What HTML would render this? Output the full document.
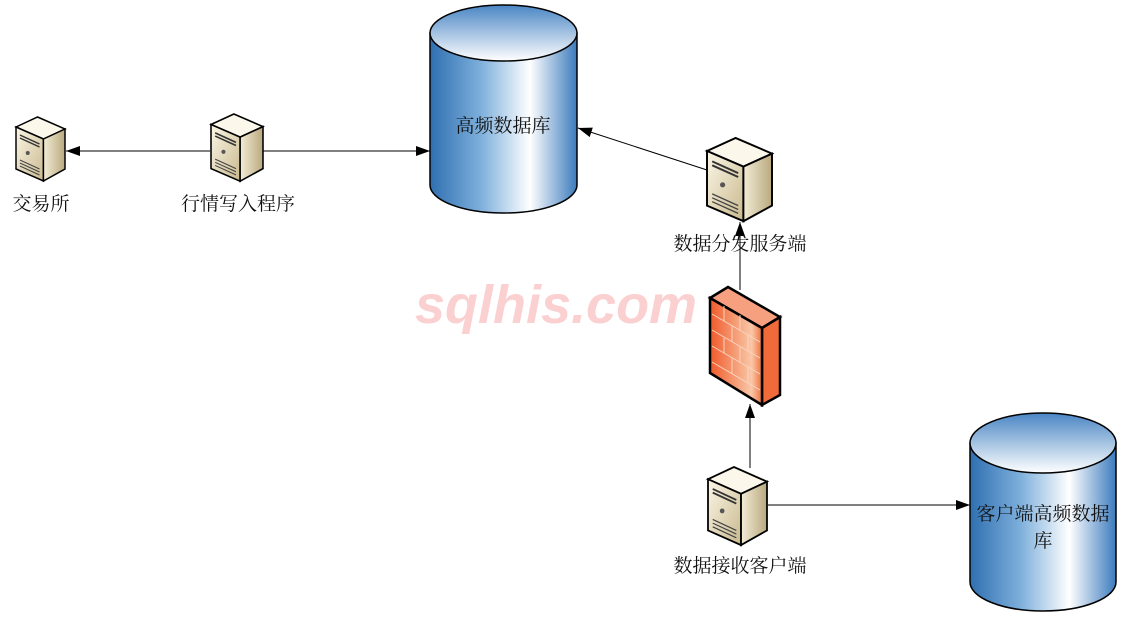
<!DOCTYPE html>
<html><head><meta charset="utf-8"><style>
body{margin:0;background:#fff;width:1124px;height:614px;overflow:hidden}
svg text{font-family:"Liberation Serif","Noto Serif CJK SC","Noto Sans CJK SC",serif;font-size:19px;fill:#111}
</style></head><body>
<svg width="1124" height="614" viewBox="0 0 1124 614">
<defs>
<linearGradient id="body" x1="0" x2="1" y1="0" y2="0">
<stop offset="0" stop-color="#2f6fb0"/><stop offset="0.35" stop-color="#7fb0dc"/><stop offset="0.68" stop-color="#ffffff"/><stop offset="1" stop-color="#3b7bbd"/></linearGradient>
<linearGradient id="top" x1="0" x2="0" y1="0" y2="1">
<stop offset="0" stop-color="#4a86c4"/><stop offset="1" stop-color="#ffffff"/></linearGradient>
<linearGradient id="sf" x1="0" x2="1" y1="0" y2="1"><stop offset="0" stop-color="#fbf6e6"/><stop offset="1" stop-color="#c9b98e"/></linearGradient>
<linearGradient id="ss" x1="0" x2="1" y1="0" y2="0"><stop offset="0" stop-color="#f3ecd6"/><stop offset="1" stop-color="#b9a97e"/></linearGradient>
<linearGradient id="fw" x1="0" x2="1" y1="0" y2="0"><stop offset="0" stop-color="#f05a2a"/><stop offset="0.8" stop-color="#f9c8a8"/><stop offset="1" stop-color="#f07040"/></linearGradient>
<marker id="ar" markerWidth="14" markerHeight="10" refX="14" refY="5" orient="auto" markerUnits="userSpaceOnUse"><path d="M0,0 L14,5 L0,10 Z" fill="#000"/></marker>
<g id="srv">
<path d="M0,10 L22,0 L50,12 L28,22 Z" fill="#fbf7ea" stroke="#000" stroke-width="1.5"/>
<path d="M0,10 L28,22 L28,64 L0,52 Z" fill="url(#sf)" stroke="#000" stroke-width="1.5"/>
<path d="M28,22 L50,12 L50,52 L28,64 Z" fill="url(#ss)" stroke="#000" stroke-width="1.5"/>
<path d="M4,18 L24,27 M4,21 L24,30" stroke="#333" stroke-width="1.5"/>
<circle cx="12" cy="36" r="2" fill="#555"/>
<path d="M4,43 L24,52 M4,46 L24,55 M4,49 L24,58" stroke="#444" stroke-width="1"/>
</g>
</defs>
<!-- watermark -->
<text x="415" y="323" style="font-family:'Liberation Sans',sans-serif;font-size:54px;font-weight:bold;font-style:italic;fill:#fbd0d0">sqlhis.com</text>
<!-- cylinder 1 -->
<path d="M430,33 L430,185 A73.5,28 0 0 0 577,185 L577,33 Z" fill="url(#body)" stroke="#000" stroke-width="1.5"/>
<ellipse cx="503.5" cy="33" rx="73.5" ry="28" fill="url(#top)" stroke="#000" stroke-width="1.5"/>
<text x="503" y="132" text-anchor="middle">高频数据库</text>
<!-- cylinder 2 -->
<path d="M970,443 L970,582 A73,29 0 0 0 1116,582 L1116,443 Z" fill="url(#body)" stroke="#000" stroke-width="1.5"/>
<ellipse cx="1043" cy="443" rx="73" ry="30" fill="url(#top)" stroke="#000" stroke-width="1.5"/>
<text x="1043" y="520" text-anchor="middle">客户端高频数据</text>
<text x="1043" y="547" text-anchor="middle">库</text>
<!-- connectors -->
<line x1="210" y1="151" x2="66" y2="151" stroke="#000" marker-end="url(#ar)"/>
<line x1="263" y1="151" x2="430" y2="151" stroke="#000" marker-end="url(#ar)"/>
<line x1="707" y1="170" x2="578" y2="128" stroke="#000" marker-end="url(#ar)"/>
<line x1="740" y1="290" x2="740" y2="222" stroke="#000" marker-end="url(#ar)"/>
<line x1="750" y1="468" x2="750" y2="404" stroke="#000" marker-end="url(#ar)"/>
<line x1="768" y1="505" x2="970" y2="505" stroke="#000" marker-end="url(#ar)"/>
<!-- servers -->
<use href="#srv" transform="translate(16,117) scale(0.98,1)"/>
<use href="#srv" transform="translate(211,114) scale(1.04,1.05)"/>
<use href="#srv" transform="translate(707,138) scale(1.3,1.3)"/>
<use href="#srv" transform="translate(708,467) scale(1.18,1.22)"/>
<!-- firewall -->
<path d="M710,298 L728,287 L780,317 L762,328 Z" fill="#f7a080" stroke="#000" stroke-width="2.5"/>
<path d="M762,328 L780,317 L780,395 L762,405 Z" fill="#f06a3a" stroke="#000" stroke-width="2.5"/>
<path d="M710,298 L762,328 L762,405 L710,373 Z" fill="url(#fw)" stroke="#000" stroke-width="2.5"/>
<g stroke="#fbd3c0" stroke-width="1" fill="none">
<path d="M712,314 L760,342 M712,330 L760,358 M712,346 L760,374 M712,362 L760,390"/>
<path d="M724,306 L724,321 M740,315 L740,330 M732,326 L732,342 M748,335 L748,350 M724,338 L724,353 M740,347 L740,362 M732,358 L732,373 M748,367 L748,382"/>
</g>
<!-- labels -->
<text x="41" y="210" text-anchor="middle">交易所</text>
<text x="238" y="210" text-anchor="middle">行情写入程序</text>
<text x="740" y="250" text-anchor="middle">数据分发服务端</text>
<text x="740" y="572" text-anchor="middle">数据接收客户端</text>
</svg>
</body></html>
